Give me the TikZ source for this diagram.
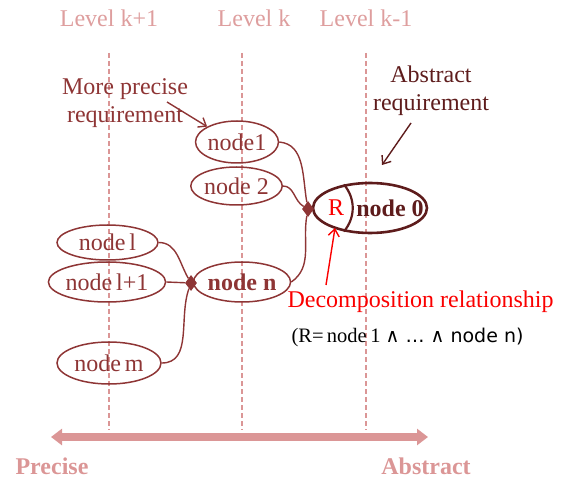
\documentclass[tikz,border=0pt]{standalone}
\usepackage{fontspec}
\setmainfont{Liberation Serif}
\newfontfamily\dejavu{DejaVu Sans}
\usetikzlibrary{arrows.meta,shapes.geometric}
\definecolor{pinkL}{RGB}{219,150,150}
\definecolor{pinkT}{RGB}{222,158,158}
\definecolor{brn}{RGB}{142,53,53}
\definecolor{drk}{RGB}{94,28,28}
\definecolor{rd}{RGB}{250,0,0}
\tikzset{
  big/.style={font=\fontsize{24}{28}\selectfont},
  levellabel/.style={big,text=pinkT,inner sep=0pt},
  levelline/.style={pinkL,line width=2.2pt,dash pattern=on 5pt off 3pt},
  req/.style={ellipse,draw=brn,line width=1.5pt,text=brn,inner sep=0pt,big},
  junc/.style={diamond,fill=brn,inner sep=0pt,minimum width=12pt,minimum height=16pt,aspect=0.7},
  edge/.style={brn,line width=1.4pt},
  note/.style={big,align=center,inner sep=0pt},
  barb/.style={-{Straight Barb[length=7pt,width=11pt]},line width=1.4pt},
  axis/.style={pinkL,line width=8pt,{Triangle[length=11pt,width=16pt]}-{Triangle[length=11pt,width=16pt]}},
  axislabel/.style={font=\fontsize{24}{28}\selectfont\bfseries,text=pinkL,inner sep=0pt}
}
\begin{document}
\begin{tikzpicture}
\useasboundingbox (0,0) rectangle (569pt,479pt);
\begin{scope}[x=1pt,y=1pt]
% level labels
\node[levellabel] (lk1) at (109,461) {Level k+1};
\node[levellabel] (lk) at (254,461) {Level k};
\node[levellabel] (lkm) at (366,461) {Level k-1};
% dashed level lines
\coordinate (t1) at (109,426); \coordinate (b1) at (109,49);
\coordinate (t2) at (242,426); \coordinate (b2) at (242,49);
\coordinate (t3) at (366,426); \coordinate (b3) at (366,49);
\draw[levelline] (t1) -- (b1);
\draw[levelline] (t2) -- (b2);
\draw[levelline] (t3) -- (b3);
% requirement nodes
\node[req,minimum width=80pt,minimum height=42pt] (n1t) at (237,337) {node1};
\node[req,minimum width=80pt,minimum height=38pt] (n2) at (236.5,293) {node 2};
\node[req,minimum width=101pt,minimum height=35pt] (nl) at (107.5,236.5) {node\,l};
\node[req,minimum width=104pt,minimum height=40pt] (nl1) at (107,197) {node\,l+1};
\node[req,minimum width=104pt,minimum height=42pt] (nm) at (109,116) {node\,m};
\node[req,minimum width=88pt,minimum height=40pt,font=\fontsize{24}{28}\selectfont\bfseries] (nn) at (242,197) {node n};
\node[ellipse,draw=drk,line width=2.6pt,minimum width=114pt,minimum height=50pt,inner sep=0pt] (n0) at (370,271) {};
\draw[drk,line width=2.2pt] (n0.138) to[bend left=40] (n0.222);
\node[big,text=rd,inner sep=0pt] (R) at (336,271) {R};
\node[big,text=drk,inner sep=0pt,font=\fontsize{24}{28}\selectfont\bfseries] (n0t) at (390,271) {node 0};
% junctions
\node[junc] (j0) at (308,270) {};
\node[junc] (j1) at (191,196) {};
% edges
\draw[edge] (n1t.east) to[out=-5,in=100] (j0);
\draw[edge] (n2.east) to[out=0,in=150] (j0);
\draw[edge] (nn.east) to[out=35,in=-100] (j0);
\draw[edge] (nl.east) to[out=0,in=120] (j1);
\draw[edge] (nl1.east) -- (j1);
\draw[edge] (nm.east) to[out=0,in=-110] (j1);
% annotations
\node[note,text=brn] (mp) at (125,375.5) {More precise\\requirement};
\coordinate (mpA) at (167,377);
\draw[barb,brn] (mpA) -- (n1t.north west);
\node[note,text=drk] (ar) at (431,388) {Abstract\\requirement};
\coordinate (arA) at (411,356);
\coordinate (arB) at (382,314);
\draw[barb,drk] (arA) -- (arB);
\node[big,text=rd,inner sep=0pt] (dec) at (420.5,177) {Decomposition relationship};
\coordinate (decA) at (326,194);
\coordinate (decB) at (335,251);
\draw[barb,rd] (decA) -- (decB);
\node[inner sep=0pt,text=black] (form) at (407.5,142) {\fontsize{20.5}{24}\selectfont(R=\,node\,1\ \dejavu\fontsize{19}{22}\selectfont ∧ … ∧ node n)};
% axis
\coordinate (axL) at (51,42);
\coordinate (axR) at (428,42);
\draw[axis] (axL) -- (axR);
\node[axislabel] (pr) at (52,13) {Precise};
\node[axislabel] (ab) at (426,13) {Abstract};
\end{scope}
\end{tikzpicture}
\end{document}
